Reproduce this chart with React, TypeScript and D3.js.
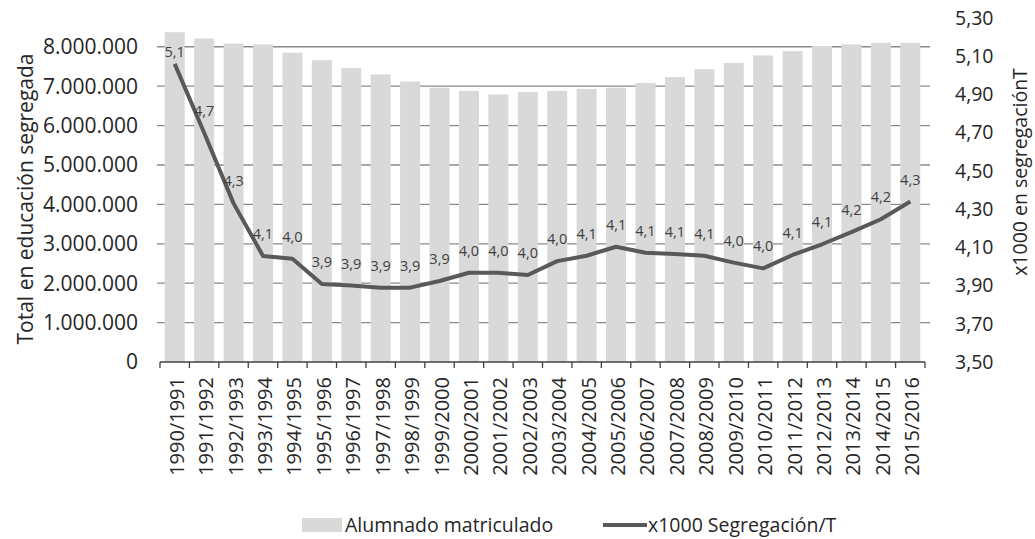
import React from "react";
import * as d3 from "d3";

const categories = [
  "1990/1991", "1991/1992", "1992/1993", "1993/1994", "1994/1995", "1995/1996",
  "1996/1997", "1997/1998", "1998/1999", "1999/2000", "2000/2001", "2001/2002",
  "2002/2003", "2003/2004", "2004/2005", "2005/2006", "2006/2007", "2007/2008",
  "2008/2009", "2009/2010", "2010/2011", "2011/2012", "2012/2013", "2013/2014",
  "2014/2015", "2015/2016",
];

const alumnado = [
  8370000, 8210000, 8080000, 8060000, 7850000, 7660000, 7460000, 7300000,
  7120000, 6960000, 6880000, 6790000, 6850000, 6880000, 6930000, 6960000,
  7080000, 7230000, 7430000, 7590000, 7780000, 7890000, 8020000, 8060000,
  8100000, 8100000,
];

const segregacion = [
  5.06, 4.7, 4.33, 4.055, 4.04, 3.908, 3.9, 3.889, 3.889, 3.924, 3.967, 3.967,
  3.955, 4.028, 4.056, 4.103, 4.072, 4.065, 4.056, 4.02, 3.99, 4.06, 4.116,
  4.18, 4.247, 4.34,
];

const leftTicks = [0, 1000000, 2000000, 3000000, 4000000, 5000000, 6000000, 7000000, 8000000];
const rightTicks = [3.5, 3.7, 3.9, 4.1, 4.3, 4.5, 4.7, 4.9, 5.1, 5.3];

const seriesNames = ["Alumnado matriculado", "x1000 Segregación/T"];
const leftTitle = "Total en educación segregada";
const rightTitle = "x1000 en segregaciónT";

const FONT = "'Open Sans', 'Noto Sans', sans-serif";

export default function App() {
  const W = 1035;
  const H = 539;
  const x0 = 160;
  const x1 = 925;
  const yTop = 18;
  const yBot = 362;

  const x = d3.scaleBand<string>().domain(categories).range([x0, x1]).paddingInner(0.32).paddingOuter(0.16);
  const step = (x1 - x0) / categories.length;
  const yL = d3.scaleLinear().domain([0, 8730000]).range([yBot, yTop]);
  const yR = d3.scaleLinear().domain([3.5, 5.3]).range([yBot, yTop]);

  const fmtL = (v: number) => (v === 0 ? "0" : d3.format(",")(v).replace(/,/g, "."));
  const fmtR = (v: number) => v.toFixed(2).replace(".", ",");
  const fmtD = (v: number) => v.toFixed(1).replace(".", ",");

  const line = d3
    .line<number>()
    .x((_, i) => (x(categories[i]) as number) + x.bandwidth() / 2)
    .y((d) => yR(d));

  return (
    <svg width={W} height={H} style={{ display: "block", position: "absolute", left: 0, top: 0 }} fontFamily={FONT}>
      <rect width={W} height={H} fill="#fff" />
      {/* gridlines */}
      {leftTicks.filter((t) => t > 0).map((t) => (
        <line key={t} x1={157} x2={930} y1={yL(t)} y2={yL(t)} stroke="#8a8a8a" strokeWidth={1.3} />
      ))}
      {/* bars */}
      {alumnado.map((v, i) => (
        <rect
          key={categories[i]}
          x={x(categories[i])}
          y={yL(v)}
          width={x.bandwidth()}
          height={yBot - yL(v)}
          fill="#d9d9d9"
        />
      ))}
      {/* x axis */}
      <line x1={x0} x2={x1} y1={yBot} y2={yBot} stroke="#404040" strokeWidth={1.3} />
      {d3.range(categories.length + 1).map((i) => (
        <line key={i} x1={x0 + i * step} x2={x0 + i * step} y1={yBot} y2={yBot + 6} stroke="#404040" strokeWidth={1.3} />
      ))}
      {categories.map((c) => (
        <text
          key={c}
          transform={`translate(${(x(c) as number) + x.bandwidth() / 2 + 2},377) rotate(-90)`}
          textAnchor="end"
          dy="0.35em"
          fontSize={20}
          fill="#262626"
        >
          {c}
        </text>
      ))}
      {/* left axis labels */}
      {leftTicks.map((t) => (
        <text key={t} x={138} y={yL(t)} dy="0.35em" textAnchor="end" fontSize={21} fill="#262626">
          {fmtL(t)}
        </text>
      ))}
      {/* right axis labels */}
      {rightTicks.map((t) => (
        <text key={t} x={955} y={yR(t)} dy="0.35em" textAnchor="start" fontSize={19.5} fill="#262626">
          {fmtR(t)}
        </text>
      ))}
      {/* line */}
      <path d={line(segregacion) || ""} fill="none" stroke="#595959" strokeWidth={4} strokeLinejoin="round" />
      {/* data labels */}
      {segregacion.map((v, i) => (
        <text
          key={i}
          x={(x(categories[i]) as number) + x.bandwidth() / 2}
          y={yR(v) - (i === 0 ? 12 : 22)}
          dy="0.35em"
          textAnchor="middle"
          fontSize={14.5}
          fill="#404040"
        >
          {fmtD(v)}
        </text>
      ))}
      {/* axis titles */}
      <text transform="translate(33,199) rotate(-90)" textAnchor="middle" fontSize={21} fill="#262626">
        {leftTitle}
      </text>
      <text transform="translate(1027,172) rotate(-90)" textAnchor="middle" fontSize={19.5} fill="#262626">
        {rightTitle}
      </text>
      {/* legend */}
      <rect x={302} y={518} width={40} height={14} fill="#d9d9d9" />
      <text x={345} y={525} dy="0.35em" fontSize={19.5} fill="#262626">
        {seriesNames[0]}
      </text>
      <line x1={603} x2={647} y1={525} y2={525} stroke="#595959" strokeWidth={4} />
      <text x={648} y={525} dy="0.35em" fontSize={19.5} fill="#262626">
        {seriesNames[1]}
      </text>
    </svg>
  );
}
